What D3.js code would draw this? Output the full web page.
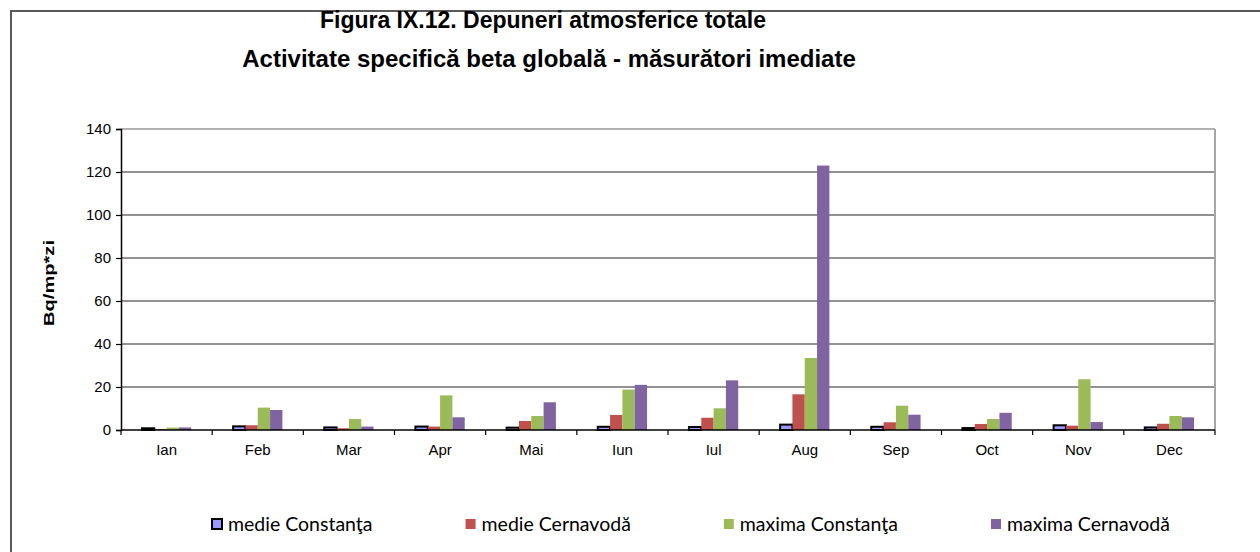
<!DOCTYPE html>
<html>
<head>
<meta charset="utf-8">
<script src="https://cdn.jsdelivr.net/npm/d3@7"></script>
<style>
  body { margin: 0; background: #fff; }
  svg { display: block; }
</style>
</head>
<body>
<script>
// months on the x axis
const months = ["Ian", "Feb", "Mar", "Apr", "Mai", "Iun", "Iul", "Aug", "Sep", "Oct", "Nov", "Dec"];
const seriesNames = ["medie Constanţa", "medie Cernavodă", "maxima Constanţa", "maxima Cernavodă"];
const seriesColors = ["#9999ff", "#c0504d", "#9bbb59", "#8064a2"];

// values (Bq/mp*zi)
const medieConstanta  = [0.8, 1.7, 1.2, 1.6, 1.1, 1.5, 1.4, 2.5, 1.5, 0.9, 2.2, 1.2];
const medieCernavoda  = [0.5, 2.2, 0.8, 1.6, 4.2, 7.0, 5.7, 16.6, 3.6, 2.8, 2.0, 2.9];
const maximaConstanta = [1.1, 10.4, 5.1, 16.1, 6.5, 18.8, 10.1, 33.5, 11.3, 5.1, 23.6, 6.5];
const maximaCernavoda = [1.2, 9.3, 1.6, 5.9, 12.9, 21.0, 23.1, 123.0, 7.1, 8.0, 3.7, 5.9];
const yTicks = [0, 20, 40, 60, 80, 100, 120, 140];

const allSeries = [medieConstanta, medieCernavoda, maximaConstanta, maximaCernavoda];

const width = 1260, height = 552;
const plot = { left: 121, right: 1215, top: 129, bottom: 430 };

const svg = d3.select("body").append("svg")
    .attr("width", width)
    .attr("height", height);

// outer chart frame (runs off the picture on the right and bottom)
svg.append("rect")
    .attr("x", 11).attr("y", 11)
    .attr("width", 1270).attr("height", 560)
    .attr("fill", "none")
    .attr("stroke", "#5a5a5a")
    .attr("stroke-width", 2);

// title
const title = svg.append("text")
    .attr("text-anchor", "middle")
    .style("font-family", "Liberation Sans, Arial, sans-serif")
    .style("font-weight", "bold");
title.append("tspan").attr("x", 543).attr("y", 28)
    .style("font-size", "23px")
    .text("Figura IX.12. Depuneri atmosferice totale");
title.append("tspan").attr("x", 549).attr("y", 67)
    .style("font-size", "24px")
    .text("Activitate specifică beta globală - măsurători imediate");

const x0 = d3.scaleBand()
    .domain(months)
    .range([plot.left, plot.right])
    .paddingInner(0)
    .paddingOuter(0);

const x1 = d3.scaleBand()
    .domain(d3.range(seriesNames.length))
    .range([0, x0.bandwidth()])
    .paddingInner(0)
    .paddingOuter(1.7);

const y = d3.scaleLinear()
    .domain([0, 140])
    .range([plot.bottom, plot.top]);

// gridlines
svg.append("g")
    .selectAll("line")
    .data(yTicks.filter(t => t > 0))
    .enter().append("line")
    .attr("x1", plot.left)
    .attr("x2", plot.right)
    .attr("y1", d => y(d))
    .attr("y2", d => y(d))
    .attr("stroke", d => d === 140 ? "#9a9a9a" : "#6e6e6e")
    .attr("stroke-width", 1.4);

// right border of plot area
svg.append("line")
    .attr("x1", plot.right).attr("x2", plot.right)
    .attr("y1", plot.top).attr("y2", plot.bottom)
    .attr("stroke", "#a6a6a6")
    .attr("stroke-width", 2);

// bars
const groups = svg.append("g")
    .selectAll("g")
    .data(months)
    .enter().append("g")
    .attr("transform", d => `translate(${x0(d)},0)`);

groups.selectAll("rect")
    .data((m, i) => allSeries.map((s, k) => ({ k: k, v: s[i] })))
    .enter().append("rect")
    .attr("x", d => x1(d.k))
    .attr("width", x1.bandwidth())
    .attr("y", d => y(d.v))
    .attr("height", d => y(0) - y(d.v))
    .attr("fill", d => seriesColors[d.k])
    .attr("stroke", d => d.k === 0 ? "#000" : "none")
    .attr("stroke-width", d => d.k === 0 ? 2 : 0);

// y axis
const yAxis = svg.append("g")
    .attr("transform", `translate(${plot.left},0)`)
    .call(d3.axisLeft(y).tickValues(yTicks).tickSize(5).tickPadding(5));
yAxis.select(".domain").attr("stroke", "#000").attr("stroke-width", 1.5);
yAxis.selectAll(".tick line").attr("stroke", "#000").attr("stroke-width", 1.2);
yAxis.selectAll("text")
    .style("font-family", "Liberation Sans, Arial, sans-serif")
    .style("font-size", "15px")
    .attr("fill", "#000");

// x axis: ticks sit between months
const xAxis = svg.append("g")
    .attr("transform", `translate(0,${plot.bottom})`);
xAxis.append("line")
    .attr("x1", plot.left).attr("x2", plot.right)
    .attr("y1", 0).attr("y2", 0)
    .attr("stroke", "#000").attr("stroke-width", 1.5);
xAxis.selectAll(".sep")
    .data(months.concat(["end"]))
    .enter().append("line")
    .attr("class", "sep")
    .attr("x1", (d, i) => i < months.length ? x0(d) : plot.right)
    .attr("x2", (d, i) => i < months.length ? x0(d) : plot.right)
    .attr("y1", 0).attr("y2", 5)
    .attr("stroke", "#000").attr("stroke-width", 1.2);
xAxis.selectAll(".lbl")
    .data(months)
    .enter().append("text")
    .attr("class", "lbl")
    .attr("x", d => x0(d) + x0.bandwidth() / 2)
    .attr("y", 25)
    .attr("text-anchor", "middle")
    .style("font-family", "Liberation Sans, Arial, sans-serif")
    .style("font-size", "15px")
    .text(d => d);

// y axis title
svg.append("text")
    .attr("transform", "translate(54,283) rotate(-90)")
    .attr("text-anchor", "middle")
    .attr("textLength", 86)
    .attr("lengthAdjust", "spacingAndGlyphs")
    .style("font-family", "Liberation Sans, Arial, sans-serif")
    .style("font-weight", "bold")
    .style("font-size", "15px")
    .text("Bq/mp*zi");

// legend
const legend = svg.append("g").attr("transform", "translate(212,524)");
let lx = 0;
seriesNames.forEach((name, k) => {
    const item = legend.append("g").attr("transform", `translate(${lx},0)`);
    item.append("rect")
        .attr("x", 0).attr("y", -5)
        .attr("width", 10).attr("height", 10)
        .attr("fill", seriesColors[k])
        .attr("stroke", k === 0 ? "#000" : "none")
        .attr("stroke-width", 2);
    const t = item.append("text")
        .attr("x", 16).attr("y", 7)
        .style("font-family", "Lato, sans-serif")
        .style("font-size", "19.5px")
        .text(name);
    lx += 16 + t.node().getComputedTextLength() + 93;
});
</script>
</body>
</html>
